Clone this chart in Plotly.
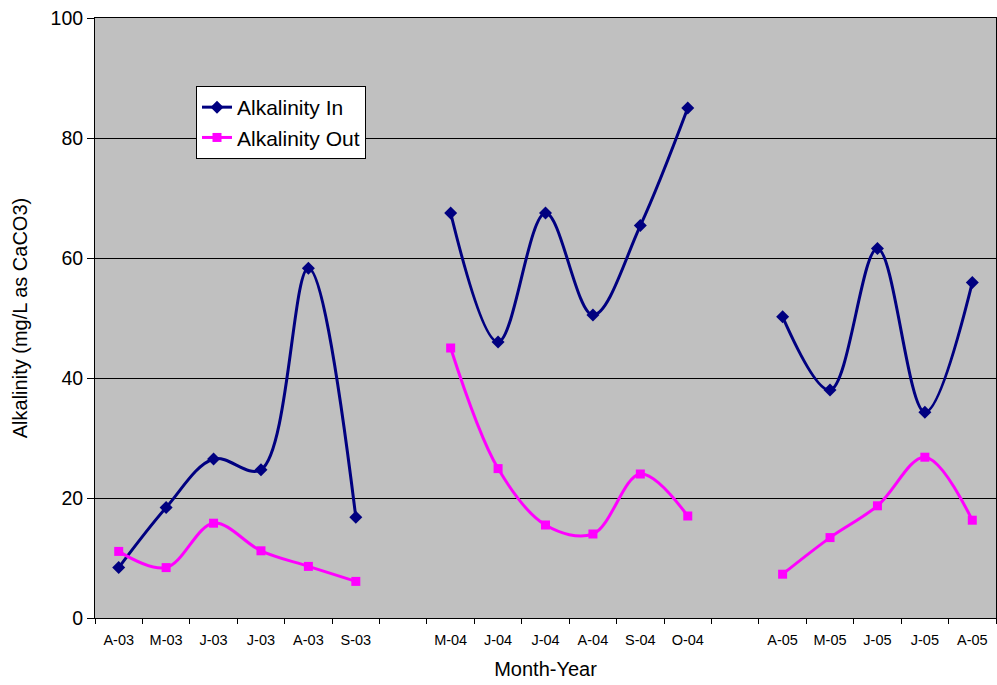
import plotly.graph_objects as go

# Month-year categories; empty strings are blank slots separating the years
categories = ["A-03", "M-03", "J-03", "J-03", "A-03", "S-03", "",
              "M-04", "J-04", "J-04", "A-04", "S-04", "O-04", "",
              "A-05", "M-05", "J-05", "J-05", "A-05"]

alkalinity_in = [8.4, 18.4, 26.5, 24.7, 58.3, 16.8, None,
                 67.5, 46.0, 67.5, 50.5, 65.4, 85.0, None,
                 50.2, 38.0, 61.6, 34.3, 55.9]

alkalinity_out = [11.1, 8.4, 15.8, 11.2, 8.6, 6.1, None,
                  45.0, 24.9, 15.5, 14.0, 24.0, 17.0, None,
                  7.3, 13.4, 18.7, 26.8, 16.3]

y_ticks = [0, 20, 40, 60, 80, 100]

x = list(range(len(categories)))
label_pos = [i for i, c in enumerate(categories) if c]
label_txt = [categories[i] for i in label_pos]
boundaries = [i - 0.5 for i in range(len(categories) + 1)]

FONT = "Liberation Sans, Arial, sans-serif"

fig = go.Figure()
fig.add_trace(go.Scatter(
    x=x, y=alkalinity_in, name="Alkalinity In",
    mode="lines+markers",
    line=dict(color="#000080", width=3, shape="spline", smoothing=1),
    marker=dict(symbol="diamond", size=10, color="#000080"),
    connectgaps=False,
))
fig.add_trace(go.Scatter(
    x=x, y=alkalinity_out, name="Alkalinity Out",
    mode="lines+markers",
    line=dict(color="#FF00FF", width=3, shape="spline", smoothing=1),
    marker=dict(symbol="square", size=9, color="#FF00FF"),
    connectgaps=False,
))

fig.update_layout(
    width=997, height=685,
    margin=dict(l=95, r=1, t=18, b=67),
    paper_bgcolor="white",
    plot_bgcolor="#C0C0C0",
    font=dict(family=FONT, color="black"),
    showlegend=True,
    legend=dict(
        x=(196 - 95) / 901, y=(618 - 86) / 600,
        xanchor="left", yanchor="top",
        bgcolor="white", bordercolor="black", borderwidth=1,
        font=dict(size=21, family=FONT, color="black"),
        tracegroupgap=0, itemwidth=30,
    ),
    xaxis=dict(
        range=[-0.5, len(categories) - 0.5],
        tickmode="array", tickvals=label_pos, ticktext=label_txt,
        ticks="", tickfont=dict(size=14.5, family=FONT, color="black"),
        ticklabelstandoff=9,
        minor=dict(tickmode="array", tickvals=boundaries, ticks="outside",
                   ticklen=5, tickcolor="black", tickwidth=1, showgrid=False),
        showgrid=False, zeroline=False,
        showline=True, linecolor="black", linewidth=1, mirror=True,
        title=dict(text="Month-Year", font=dict(size=20, family=FONT, color="black"),
                   standoff=14),
    ),
    yaxis=dict(
        range=[0, 100], tickmode="array", tickvals=y_ticks,
        ticks="outside", ticklen=7, tickcolor="black",
        tickfont=dict(size=19.5, family=FONT, color="black"),
        showgrid=True, gridcolor="black", gridwidth=1,
        zeroline=False,
        showline=True, linecolor="black", linewidth=1, mirror=True,
        title=dict(text="Alkalinity (mg/L as CaCO3)",
                   font=dict(size=20, family=FONT, color="black"), standoff=17),
    ),
)

fig.write_html("out.html")
